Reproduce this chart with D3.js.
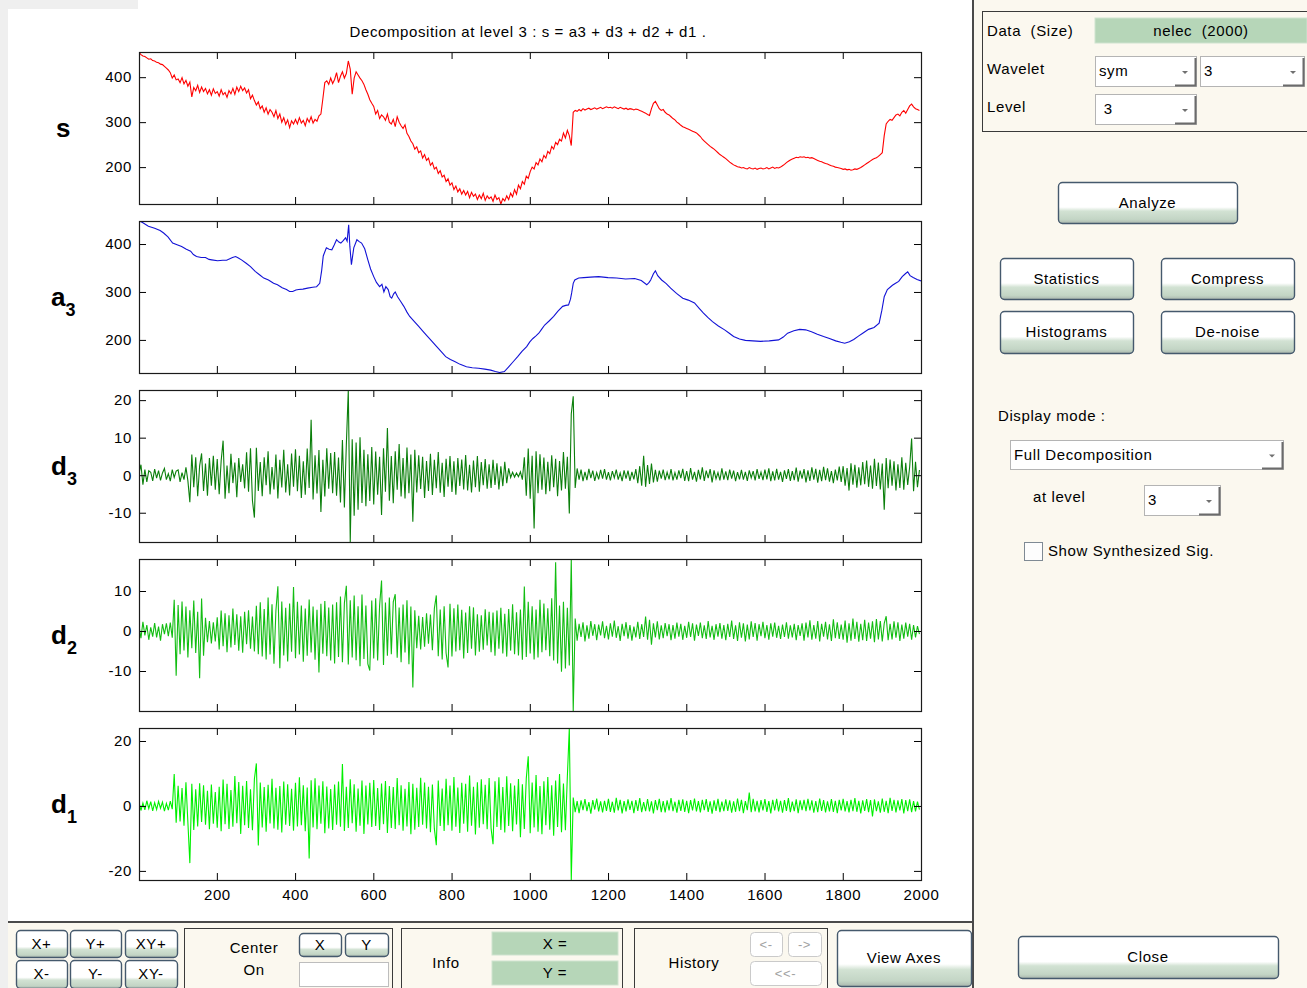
<!DOCTYPE html>
<html>
<head>
<meta charset="utf-8">
<script src="https://cdn.jsdelivr.net/npm/d3@7"></script>
<style>
  body { margin: 0; background: #fff; }
  svg { font-family: "Liberation Sans", Arial, sans-serif; font-size: 15px; letter-spacing: 0.6px; }
</style>
</head>
<body>
<div id="chart"></div>
<script>
// samples 1..2000, detail/signal series stored every 5th sample
const sampleStep = 5;
const xTicks = [200, 400, 600, 800, 1000, 1200, 1400, 1600, 1800, 2000];

const sDomain = [118, 456];
const a3Domain = [131, 448];
const det3Domain = [-17.8, 22.7];
const det2Domain = [-20, 18];
const det1Domain = [-22.8, 24];

const sTicks = [200, 300, 400];
const a3Ticks = [200, 300, 400];
const det3Ticks = [-10, 0, 10, 20];
const det2Ticks = [-10, 0, 10];
const det1Ticks = [-20, 0, 20];

const sValues = [
  455, 450, 447, 446, 443, 440, 441, 437, 436, 433, 432, 429, 428, 424, 420, 416, 410, 398, 405, 394,
  396, 388, 399, 385, 393, 380, 389, 356, 377, 370, 382, 366, 378, 368, 375, 363, 372, 360, 374, 364,
  368, 358, 372, 361, 366, 355, 370, 363, 375, 362, 378, 368, 380, 370, 376, 365, 372, 352, 360, 348,
  338, 345, 330, 336, 322, 332, 318, 328, 322, 312, 326, 308, 318, 300, 310, 295, 305, 288, 303, 296,
  306, 296, 310, 298, 304, 292, 308, 300, 312, 298, 306, 302, 314, 318, 352, 388, 392, 384, 398, 386,
  395, 410, 388, 402, 412, 398, 408, 436, 418, 362, 398, 412, 405, 398, 392, 384, 372, 362, 350, 342,
  335, 318, 326, 308, 316, 312, 304, 318, 300, 296, 306, 290, 312, 300, 292, 286, 294, 275, 268, 258,
  252, 240, 245, 232, 236, 220, 228, 215, 220, 204, 210, 196, 200, 186, 192, 178, 182, 168, 174, 160,
  165, 150, 158, 145, 152, 140, 148, 138, 146, 132, 144, 135, 140, 128, 138, 130, 142, 126, 136, 130,
  134, 124, 138, 128, 132, 118, 130, 125, 136, 128, 142, 134, 150, 140, 160, 152, 168, 162, 180, 175,
  190, 200, 196, 210, 205, 218, 212, 226, 220, 235, 230, 246, 240, 255, 250, 262, 258, 276, 265, 282,
  270, 248, 322, 326, 324, 328, 325, 330, 327, 329, 331, 328, 330, 332, 329, 331, 333, 330, 332, 334,
  332, 333, 331, 334, 332, 330, 333, 331, 329, 331, 328, 330, 329, 327, 329, 328, 326, 324, 322, 320,
  317, 315, 330, 342, 346, 338, 330, 326, 328, 322, 318, 316, 312, 308, 305, 300, 297, 293, 290, 288,
  286, 284, 282, 280, 278, 276, 272, 268, 262, 258, 254, 250, 246, 243, 240, 236, 232, 228, 225, 222,
  219, 215, 211, 208, 205, 203, 201, 200, 198, 199, 197, 196, 199, 197, 196, 198, 195, 197, 198, 196,
  197, 199, 196, 198, 200, 197, 199, 198, 200, 203, 206, 210, 213, 216, 218, 220, 222, 221, 223, 222,
  223, 221, 222, 220, 221, 219, 217, 215, 213, 212, 210, 208, 207, 205, 203, 202, 200, 199, 198, 197,
  195, 196, 194, 195, 193, 194, 196, 195, 197, 199, 202, 205, 208, 211, 214, 217, 219, 221, 224, 228,
  232, 270, 296, 302, 306, 304, 310, 316, 318, 314, 322, 326, 320, 328, 336, 340, 334, 330, 328, 326
];

const a3Index = [
  1, 10, 25, 41, 55, 64, 75, 87, 100, 110,
  122, 133, 140, 148, 160, 171, 180, 187, 202, 215,
  225, 240, 248, 255, 263, 275, 286, 298, 309, 320,
  332, 345, 355, 367, 378, 386, 394, 402, 409, 420,
  432, 445, 455, 463, 468, 472, 480, 487, 494, 500,
  506, 512, 517, 523, 529, 533, 537, 540, 544, 550,
  558, 564, 570, 578, 586, 593, 601, 608, 616, 622,
  627, 632, 638, 643, 647, 652, 656, 662, 670, 678,
  686, 693, 705, 716, 727, 739, 750, 762, 773, 785,
  797, 808, 822, 838, 853, 869, 885, 900, 912, 923,
  935, 946, 958, 969, 980, 992, 1000, 1008, 1015, 1023,
  1030, 1038, 1050, 1061, 1072, 1084, 1092, 1099, 1104, 1107,
  1111, 1115, 1125, 1138, 1155, 1176, 1200, 1222, 1245, 1268,
  1285, 1299, 1305, 1309, 1316, 1321, 1327, 1337, 1348, 1360,
  1375, 1391, 1405, 1421, 1433, 1444, 1455, 1467, 1482, 1498,
  1510, 1521, 1536, 1551, 1570, 1590, 1612, 1636, 1648, 1659,
  1675, 1690, 1705, 1720, 1735, 1751, 1766, 1782, 1795, 1805,
  1817, 1828, 1840, 1851, 1866, 1880, 1893, 1900, 1906, 1914,
  1927, 1935, 1943, 1952, 1960, 1966, 1972, 1980, 1990, 2000
];
const a3Values = [
  448, 445, 437, 433, 428, 423, 415, 402, 398, 395,
  389, 385, 378, 374, 372, 372, 368, 367, 365, 366,
  366, 372, 374, 371, 367, 360, 353, 343, 336, 329,
  325, 318, 315, 309, 305, 301, 301, 304, 305, 306,
  308, 310, 311, 318, 345, 375, 392, 389, 388, 398,
  409, 404, 402, 407, 413, 406, 440, 395, 357, 392,
  409, 405, 402, 390, 367, 348, 332, 320, 311, 316,
  300, 311, 305, 290, 287, 296, 300, 290, 280, 270,
  258, 249, 238, 228, 218, 207, 197, 186, 176, 165,
  159, 155, 149, 144, 142, 141, 139, 137, 134, 132,
  134, 144, 155, 165, 176, 186, 196, 203, 208, 214,
  222, 231, 240, 249, 260, 270, 272, 273, 285, 298,
  318, 325, 329, 330, 331, 332, 330, 329, 327, 328,
  324, 315, 320, 325, 338, 344, 334, 325, 318, 308,
  297, 287, 283, 277, 266, 256, 247, 238, 229, 221,
  214, 207, 202, 199, 198, 197, 198, 200, 206, 214,
  219, 222, 221, 217, 212, 207, 203, 198, 195, 193,
  196, 201, 208, 214, 222, 226, 235, 262, 290, 305,
  314, 318, 322, 332, 338, 342, 334, 330, 326, 323
];

const det3Values = [
  0.5, 2.8, -2.5, 1.5, -1.8, 1.2, 0.8, -1.5, 1.6, -0.8, 1.2, -1.4, 0.6, 1.8, -1.2, 0.4, -1.6, 1.5, -0.6, 1.1,
  1.4, -1.8, 0.7, -1.2, 2.1, -1.5, -7.2, 5.5, -3.2, 4.8, -5.6, 2.5, 5.8, -4.2, 3.1, -5.5, 4.6, -2.8, 5.2, -3.9,
  4.3, -5.1, 3.8, 9.2, -6.3, 2.6, -4.8, 5.7, -2.1, 3.4, -5.9, 4.6, -1.8, 2.9, -3.5, 6.1, -4.4, 7.2, -6.8, -11.3,
  7.3, -4.2, 3.5, -5.6, 4.8, -2.7, 6.4, -5.1, 2.2, -3.8, 5.5, -6.2, 4.1, -3.3, 6.8, -4.6, 2.9, -5.4, 5.8, -3.1,
  6.9, -4.3, 5.2, -6.1, 3.7, -5.2, 7.1, -3.4, 14.8, -6.5, 5.3, -4.9, 6.7, -9.8, 4.1, -5.7, 7.2, -3.6, 5.9, -4.8,
  6.2, -5.5, 4.7, -7.3, 9.4, -8.6, 8.1, 22.7, -17.8, 9.6, -10.8, 8.7, -9.2, 10.1, -7.4, 6.8, -8.3, 5.6, -6.9, 7.5,
  -7.8, 6.3, -5.2, 4.9, -10.6, 7.2, -4.4, 12.6, -6.8, 5.1, -7.5, 6.4, -3.9, 8.3, -5.7, 4.6, -6.2, 7.4, -4.8, 5.5,
  -12.4, 6.8, -4.6, 5.3, -3.7, 4.9, -6.1, 3.8, -4.2, 5.7, -5.3, 4.1, -3.5, 6.2, -4.7, 3.3, -5.8, 4.4, -3.1, 5.1,
  -4.5, 3.7, -5.2, 4.6, -2.9, 4.2, -3.8, 5.4, -4.1, 2.8, -4.6, 3.9, -3.2, 5.1, -4.4, 3.5, -2.7, 4.3, -3.6, 2.9,
  -3.4, 4.1, -2.6, 3.2, -3.8, 2.4, -2.9, 3.6, -2.1, 1.8, -0.6, 0.8, -0.5, 0.6, -0.4, 0.9, -1.2, 4.8, -5.5, 7.1,
  -6.3, 5.2, -14.2, 6.4, -4.8, 5.6, -3.9, 4.7, -5.1, 3.6, -4.3, 5.3, -3.2, 4.4, -5.6, 3.8, -4.1, 6.2, -3.6, 4.9,
  -10.2, 16.3, 21.0, -3.4, 1.8, -1.2, 1.5, -1.6, 0.9, -1.3, 1.7, -0.8, 1.2, -1.5, 0.7, -1.1, 1.4, -0.9, 1.6, -1.2,
  0.8, -1.4, 1.1, -0.7, 1.5, -1.2, 0.6, -1.6, 1.3, -0.9, 1.2, -1.5, 0.9, -1.1, 1.6, -2.1, 2.4, -2.8, 5.2, -3.1,
  2.7, -2.3, 3.1, -1.9, 1.4, -1.7, 1.2, -0.9, 1.5, -1.3, 0.8, -1.1, 1.6, -1.4, 0.7, -1.2, 1.3, -0.8, 1.7, -1.5,
  1.1, -1.6, 1.9, -1.2, 0.9, -1.7, 1.4, -1.1, 2.1, -1.5, 1.2, -0.8, 1.6, -1.9, 1.3, -1.0, 0.7, -1.4, 1.8, -1.2,
  1.0, -1.3, 1.5, -0.9, 1.2, -1.6, 0.8, -1.1, 1.4, -1.2, 0.9, -1.5, 1.3, -0.7, 1.1, -1.4, 1.6, -1.0, 0.8, -1.3,
  1.5, -1.1, 1.8, -1.6, 1.0, -1.4, 1.7, -1.2, 0.9, -1.8, 1.3, -1.0, 1.6, -1.5, 1.1, -1.3, 2.0, -1.7, 1.2, -0.9,
  1.6, -1.9, 1.3, -1.5, 2.1, -1.2, 1.7, -2.0, 1.4, -1.6, 2.2, -1.3, 1.8, -1.7, 1.1, -2.1, 1.5, -1.4, 2.3, -1.8,
  2.4, -2.8, 1.9, -4.1, 3.2, -2.5, 2.8, -3.3, 2.1, -2.7, 3.5, -2.4, 3.9, -3.1, 2.6, -3.6, 4.4, -2.9, 3.4, -3.8,
  3.1, -9.2, 4.6, -3.5, 4.2, -2.8, 3.7, -4.1, 2.9, -3.4, 4.8, -3.9, 3.3, -2.6, 2.2, 9.8, -4.3, 3.6, -3.2, 1.4
];

const det2Values = [
  1.2, -1.8, 2.3, -1.1, 1.5, -2.2, 0.9, -1.4, 2.0, -1.6, 1.1, -2.4, 1.7, -0.8, 1.9, -1.3, 2.1, -1.7, 7.8, -11.2,
  6.5, -5.8, 7.4, -4.9, 6.1, -6.6, 5.2, -4.3, 7.6, -5.5, 4.8, -11.8, 8.1, -6.2, 3.3, -2.8, 2.5, -3.1, 2.2, -2.6,
  3.4, -4.6, 5.1, -3.8, 4.4, -5.3, 3.9, -4.1, 5.6, -3.5, 4.2, -4.9, 3.7, -5.4, 4.8, -3.3, 5.2, -4.4, 3.6, -5.1,
  6.3, -5.8, 7.2, -6.4, 5.5, -7.1, 8.4, -5.9, 6.7, -8.2, 5.1, 11.2, -9.3, 7.4, -6.1, 5.8, -7.6, 6.9, -5.2, 11.0,
  -6.8, 7.3, -5.9, 6.4, -7.7, 5.6, -6.2, 7.9, -5.4, 6.1, -7.2, 5.3, -10.4, 6.8, -5.7, 7.5, -6.3, 5.9, -7.4, 6.6,
  -8.1, 7.2, -6.5, 8.6, -7.8, 6.9, 11.3, -8.4, 7.7, -6.6, 8.9, -7.3, 6.2, -8.8, 9.1, -7.0, 6.4, -8.2, -9.9, 7.6,
  -6.9, 8.2, -7.4, 6.3, 12.6, -8.5, 7.1, -6.2, 8.4, -5.8, 7.3, 9.2, -6.7, 5.9, -7.8, 6.6, -5.4, 7.7, -8.3, 6.1,
  -14.1, 5.2, -4.3, 3.8, -4.6, 3.5, -3.9, 4.4, -3.2, 4.1, -4.8, 5.6, 8.9, -6.3, 5.4, -7.1, 6.2, -5.5, -9.1, 6.8,
  -6.4, 5.7, -5.1, 6.6, -4.8, 5.3, -6.9, 4.6, -5.5, 6.2, -4.4, 5.9, -6.1, 4.2, -5.2, 3.9, -4.7, 5.4, -3.6, 4.8,
  -5.3, 4.6, -6.2, 5.1, -4.4, 5.8, -5.6, 4.3, -6.4, 5.5, -4.9, 6.7, -5.8, 4.7, -6.1, 5.4, -7.2, 11.1, -6.5, 7.3,
  -5.6, 6.2, -7.1, 5.4, -6.6, 7.8, -5.3, 6.9, -4.8, 5.7, -6.3, 8.2, -7.4, 17.2, -8.1, 6.4, -10.2, 7.3, -9.4, 5.8,
  -8.6, 18.0, -20.0, 3.1, -2.4, 1.8, -1.5, 2.2, -2.6, 1.4, -1.9, 2.5, -1.2, 1.7, -2.3, 1.6, -1.1, 2.4, -1.8, 1.3,
  -2.1, 1.9, -1.4, 2.6, -1.7, 1.2, -2.5, 1.8, -1.3, 2.2, -1.9, 1.5, -2.4, 1.1, -1.6, 2.3, -2.0, 1.7, -1.5, 3.6,
  -2.2, 2.8, -3.4, 1.9, -1.6, 2.4, -2.1, 1.4, -1.8, 2.0, -1.3, 1.7, -2.3, 1.5, -1.9, 2.1, -1.4, 1.8, -2.2, 1.3,
  -1.7, 2.3, -1.5, 1.9, -2.4, 1.6, -1.2, 2.1, -1.8, 1.4, -2.0, 2.5, -1.6, 1.3, -2.2, 1.7, -1.4, 2.0, -1.9, 1.5,
  -2.3, 1.8, -1.5, 2.6, -2.0, 1.4, -2.5, 2.2, -1.7, 1.9, -2.6, 1.6, -2.1, 2.4, -1.5, 2.0, -2.4, 1.7, -1.3, 2.3,
  -1.8, 1.5, -2.2, 1.9, -1.4, 2.1, -1.7, 1.3, -2.0, 1.6, -1.5, 2.2, -1.9, 1.4, -1.6, 1.8, -2.3, 1.5, -1.2, 1.9,
  -2.4, 2.1, -1.6, 2.7, -2.2, 1.5, -1.9, 2.5, -2.6, 1.8, -1.4, 2.3, -2.1, 1.7, -2.5, 2.9, -1.8, 2.2, -2.0, 1.6,
  -2.2, 2.6, -2.9, 1.9, -2.4, 3.1, -2.0, 2.3, -2.7, 1.8, -2.3, 2.8, -2.5, 2.1, -1.9, 2.4, -2.8, 3.0, -2.1, 2.5,
  -2.6, 1.9, 3.7, -2.3, 1.8, -2.1, 2.4, -1.7, 2.2, -2.5, 1.6, -1.9, 2.1, -1.4, 1.8, -2.2, 1.5, -1.6, 1.2, -0.8
];

const det1Values = [
  1.1, -1.4, 0.9, -1.2, 1.6, -0.8, 1.3, -1.5, 1.0, -1.1, 1.4, -0.7, 1.2, -1.6, 0.8, -1.3, 1.5, -1.0, 9.8, -5.2,
  6.2, -4.8, 5.5, -6.1, 7.3, -5.2, -17.6, 6.8, -7.4, 5.1, -6.3, 7.0, -4.9, 6.4, -5.8, 4.7, -7.2, 6.6, -5.5, 4.3,
  -6.7, 5.9, -7.8, 8.1, -5.6, 6.8, -7.1, 4.9, -6.4, 9.2, -5.3, 7.4, -8.6, 6.2, -5.9, 7.7, -6.8, 5.1, -7.5, 8.3,
  13.1, -12.2, 7.2, -6.6, 5.8, -7.9, 6.5, -5.4, 8.4, -6.9, 5.6, -7.3, 6.1, -8.2, 7.5, -5.8, 6.7, -6.2, 5.3, -7.6,
  7.1, -6.3, 8.8, -5.9, 6.4, -7.8, 5.7, -16.2, 7.9, -6.6, 8.5, -7.2, 6.3, -5.5, 7.6, -8.4, 6.0, -6.9, 5.2, -7.4,
  6.6, -5.8, 7.5, -6.4, 12.9, -7.7, 5.9, -6.8, 8.2, -5.3, 6.7, -7.9, 5.4, -6.1, 7.8, -8.6, 6.3, -5.7, 7.1, -6.5,
  8.0, -6.2, 5.5, -7.4, 6.9, -5.6, 7.7, -8.3, 6.1, -6.8, 5.8, -7.1, 8.6, -5.9, 6.4, -7.6, 5.3, -6.3, 7.4, -8.7,
  6.8, -7.3, 5.6, -6.5, 8.7, -5.8, 7.2, -6.9, 5.9, -8.1, 6.6, -7.0, -12.1, 7.8, -6.2, 5.4, -7.7, 8.4, -5.9, 6.3,
  -7.6, 8.9, -6.4, 5.7, -8.3, 7.1, -5.5, 6.8, -7.9, 9.4, -6.1, 5.9, -8.8, 7.3, -6.7, 8.2, -5.6, 6.5, -7.2, 8.6,
  -6.9, -11.8, 7.6, -6.5, 8.8, -7.4, 5.8, -8.2, 9.1, -6.2, 7.0, -7.8, 6.3, -5.7, 8.3, -9.6, 6.7, -7.1, 8.5, 15.3,
  -8.4, 7.2, -6.6, 9.5, -7.9, 6.1, -8.7, 7.6, -5.9, 8.9, -7.3, 6.4, -9.2, 7.8, -6.5, 9.8, -8.1, 6.9, -7.5, 9.1,
  24.0, -22.8, 2.6, -1.9, 1.5, -2.2, 1.7, -1.3, 2.1, -1.6, 1.2, -2.4, 1.8, -1.1, 2.3, -1.7, 1.4, -2.0, 1.6, -1.5,
  2.2, -1.8, 1.3, -2.1, 2.5, -1.4, 1.9, -2.3, 1.5, -1.7, 2.0, -1.2, 1.6, -2.2, 1.8, -1.5, 2.4, -1.9, 1.2, -1.6,
  2.1, -1.7, 1.4, -2.3, 1.8, -1.3, 2.2, -1.9, 1.5, -2.0, 1.7, -1.4, 2.4, -1.6, 1.3, -2.1, 1.9, -1.5, 2.0, -1.8,
  1.6, -2.2, 1.8, -1.4, 2.3, -1.7, 1.5, -2.0, 1.9, -1.3, 2.1, -1.8, 1.4, -2.4, 1.7, -1.5, 2.2, -1.9, 1.3, -1.6,
  2.0, -1.5, 1.7, -2.1, 1.4, -1.8, 2.3, -1.6, 1.9, -2.2, 1.5, -1.3, 4.1, -1.9, 2.2, -1.7, 1.6, -2.0, 1.8, -1.4,
  2.1, -1.8, 1.5, -2.3, 1.9, -1.4, 2.2, -1.7, 1.6, -2.1, 1.8, -1.5, 2.4, -1.9, 1.3, -1.6, 2.0, -2.2, 1.7, -1.3,
  1.9, -1.6, 2.2, -1.4, 1.7, -2.1, 1.5, -1.9, 2.3, -1.5, 1.8, -2.0, 1.4, -1.7, 2.1, -1.8, 1.6, -2.2, 1.9, -1.4,
  2.2, -1.7, 1.5, -2.0, 1.9, -1.6, 2.4, -1.8, 1.6, -2.3, 1.7, -1.5, 2.1, -1.9, 1.8, -3.2, 2.0, -1.6, 1.4, -2.1,
  2.3, -1.8, 1.6, -2.2, 2.5, -1.5, 1.9, -2.0, 1.7, -1.4, 2.1, -2.3, 1.8, -1.6, 2.0, -1.9, 1.5, -1.7, 1.3, -1.1
];

const W = 1307, H = 988;
const plotLeft = 139, plotRight = 921, plotH = 152;
const cream = '#fbf8ef';

const svg = d3.select('#chart').append('svg').attr('width', W).attr('height', H);

const defs = svg.append('defs');
const grad = defs.append('linearGradient').attr('id', 'btnFill')
  .attr('x1', 0).attr('y1', 0).attr('x2', 0).attr('y2', 1);
[[0, '#ffffff'], [0.6, '#ffffff'], [0.7, '#d2e2d3'], [0.9, '#c3d5c5'], [1, '#a9b6ad']]
  .forEach(([o, c]) => grad.append('stop').attr('offset', o).attr('stop-color', c));

// backgrounds
svg.append('rect').attr('width', W).attr('height', H).attr('fill', '#ffffff');
svg.append('rect').attr('x', 974).attr('y', 0).attr('width', W - 974).attr('height', H).attr('fill', cream);
svg.append('rect').attr('x', 0).attr('y', 923).attr('width', 974).attr('height', H - 923).attr('fill', cream);
svg.append('rect').attr('x', 0).attr('y', 0).attr('width', 8).attr('height', H).attr('fill', '#efefef');
svg.append('rect').attr('x', 0).attr('y', 0).attr('width', 138).attr('height', 9).attr('fill', '#efefef');
svg.append('line').attr('x1', 8).attr('x2', 973).attr('y1', 922).attr('y2', 922)
  .attr('stroke', '#4a4a4a').attr('stroke-width', 2);
svg.append('line').attr('x1', 973).attr('x2', 973).attr('y1', 0).attr('y2', H)
  .attr('stroke', '#4a4a4a').attr('stroke-width', 2);

// ---------- plots ----------
const x = d3.scaleLinear().domain([1, 2000]).range([plotLeft, plotRight]);
const sampled = vals => vals.map((v, i) => [1 + i * sampleStep, v]);
const plainNum = d => String(d);   // MATLAB style "-10", not a unicode minus

const panels = [
  {id: 's', name: 's', sub: '', domain: sDomain, ticks: sTicks, color: '#ff0000', pts: sampled(sValues)},
  {id: 'a3', name: 'a', sub: '3', domain: a3Domain, ticks: a3Ticks, color: '#1212d6', pts: a3Index.map((n, i) => [n, a3Values[i]])},
  {id: 'd3', name: 'd', sub: '3', domain: det3Domain, ticks: det3Ticks, color: '#0b7f0b', pts: sampled(det3Values)},
  {id: 'd2', name: 'd', sub: '2', domain: det2Domain, ticks: det2Ticks, color: '#12bd12', pts: sampled(det2Values)},
  {id: 'd1', name: 'd', sub: '1', domain: det1Domain, ticks: det1Ticks, color: '#00f000', pts: sampled(det1Values)}
];

const noDomain = g => g.select('.domain').remove();

panels.forEach((p, k) => {
  const top = 52 + k * 169;
  const bottom = top + plotH;
  const y = d3.scaleLinear().domain(p.domain).range([bottom, top]);
  const g = svg.append('g');

  defs.append('clipPath').attr('id', 'clip-' + p.id)
    .append('rect').attr('x', plotLeft).attr('y', top).attr('width', plotRight - plotLeft).attr('height', plotH);

  const line = d3.line().x(d => x(d[0])).y(d => y(d[1]));
  g.append('path').datum(p.pts)
    .attr('clip-path', `url(#clip-${p.id})`)
    .attr('fill', 'none').attr('stroke', p.color).attr('stroke-width', 1.1)
    .attr('d', line);

  g.append('g').attr('transform', `translate(${plotLeft},0)`)
    .call(d3.axisLeft(y).tickValues(p.ticks).tickSize(-7).tickPadding(7).tickFormat(plainNum))
    .call(noDomain).attr('font-size', 15).attr('font-family', null);
  g.append('g').attr('transform', `translate(${plotRight},0)`)
    .call(d3.axisRight(y).tickValues(p.ticks).tickSize(-7).tickFormat(''))
    .call(noDomain);
  g.append('g').attr('transform', `translate(0,${top})`)
    .call(d3.axisTop(x).tickValues(xTicks).tickSize(-7).tickFormat(''))
    .call(noDomain);
  const last = k === panels.length - 1;
  g.append('g').attr('transform', `translate(0,${bottom})`)
    .call(d3.axisBottom(x).tickValues(xTicks).tickSize(-7).tickPadding(9).tickFormat(last ? plainNum : ''))
    .call(noDomain).attr('font-size', 15).attr('font-family', null);

  g.append('rect').attr('x', plotLeft + 0.5).attr('y', top + 0.5)
    .attr('width', plotRight - plotLeft).attr('height', plotH)
    .attr('fill', 'none').attr('stroke', '#1a1a1a').attr('stroke-width', 1.2);

  const lbl = g.append('text')
    .attr('x', p.sub ? 51 : 56).attr('y', top + plotH / 2 + 9)
    .attr('font-size', 26).attr('font-weight', 'bold').style('letter-spacing', '0px');
  lbl.append('tspan').text(p.name);
  if (p.sub) lbl.append('tspan').attr('dy', 10).attr('font-size', 18).text(p.sub);
});

svg.append('text').attr('x', 528).attr('y', 37).attr('text-anchor', 'middle')
  .text('Decomposition at level 3 : s = a3 + d3 + d2 + d1 .');

// ---------- GUI controls ----------
function button(x0, y0, w, h, label, disabled) {
  svg.append('rect').attr('x', x0 + 0.5).attr('y', y0 + 0.5).attr('width', w).attr('height', h).attr('rx', 4)
    .attr('fill', disabled ? '#ffffff' : 'url(#btnFill)')
    .attr('stroke', disabled ? '#cacaca' : '#45596d').attr('stroke-width', disabled ? 1 : 1.4);
  svg.append('text').attr('x', x0 + w / 2).attr('y', y0 + h / 2 + 5).attr('text-anchor', 'middle')
    .attr('fill', disabled ? '#a2a2a2' : '#000').attr('font-size', disabled ? 13 : 15).text(label);
}

function popup(x0, y0, w, h, label) {
  svg.append('rect').attr('x', x0 + 0.5).attr('y', y0 + 0.5).attr('width', w).attr('height', h)
    .attr('fill', '#ffffff').attr('stroke', '#b4b4b4');
  const ax = x0 + w - 21;
  svg.append('path').attr('d', `M${ax},${y0 + h - 0.5} L${x0 + w - 0.5},${y0 + h - 0.5} L${x0 + w - 0.5},${y0 + 2}`)
    .attr('fill', 'none').attr('stroke', '#6b6b6b').attr('stroke-width', 2);
  const cx = ax + 10, cy = y0 + h / 2 + 1;
  svg.append('path').attr('d', `M${cx - 3},${cy - 1} L${cx + 3},${cy - 1} L${cx},${cy + 2} Z`).attr('fill', '#707070');
  svg.append('text').attr('x', x0 + 4).attr('y', y0 + h / 2 + 5).style('white-space', 'pre').text(label);
}

function field(x0, y0, w, h, label) {
  svg.append('rect').attr('x', x0).attr('y', y0).attr('width', w).attr('height', h)
    .attr('fill', '#b6d6b8').attr('stroke', '#cfe3d0');
  svg.append('text').attr('x', x0 + w / 2).attr('y', y0 + h / 2 + 5).attr('text-anchor', 'middle')
    .style('white-space', 'pre').text(label);
}

function frame(x0, y0, w, h) {
  svg.append('rect').attr('x', x0 + 0.5).attr('y', y0 + 0.5).attr('width', w).attr('height', h)
    .attr('fill', 'none').attr('stroke', '#3a3a3a');
}

function label(x0, y0, txt, anchor) {
  svg.append('text').attr('x', x0).attr('y', y0).attr('text-anchor', anchor || 'start')
    .style('white-space', 'pre').text(txt);
}

// right panel
frame(982, 11, 340, 120);
label(987, 36, 'Data  (Size)');
field(1095, 18, 212, 25, 'nelec  (2000)');
label(987, 74, 'Wavelet');
popup(1095, 56, 101, 30, 'sym');
popup(1200, 56, 104, 30, '3');
label(987, 112, 'Level');
popup(1095, 94, 101, 30, ' 3');

button(1058, 182, 179, 41, 'Analyze');
button(1000, 258, 133, 41, 'Statistics');
button(1161, 258, 133, 41, 'Compress');
button(1000, 311, 133, 42, 'Histograms');
button(1161, 311, 133, 42, 'De-noise');

label(998, 421, 'Display mode :');
popup(1010, 440, 273, 29, 'Full Decomposition');
label(1033, 502, 'at level');
popup(1144, 485, 76, 30, '3');
svg.append('rect').attr('x', 1024.5).attr('y', 542.5).attr('width', 18).attr('height', 18)
  .attr('fill', '#fdfdfd').attr('stroke', '#7f8a94');
label(1048, 556, 'Show Synthesized Sig.');

button(1018, 936, 260, 42, 'Close');

// bottom strip
button(16, 930, 51, 27, 'X+');
button(70, 930, 51, 27, 'Y+');
button(125, 930, 52, 27, 'XY+');
button(16, 960, 51, 28, 'X-');
button(70, 960, 51, 28, 'Y-');
button(125, 960, 52, 28, 'XY-');

frame(184, 928, 208, 64);
label(254, 953, 'Center', 'middle');
label(254, 975, 'On', 'middle');
button(299, 933, 42, 23, 'X');
button(345, 933, 43, 23, 'Y');
svg.append('rect').attr('x', 299.5).attr('y', 962.5).attr('width', 89).attr('height', 24)
  .attr('fill', '#ffffff').attr('stroke', '#bdbdbd');

frame(401, 928, 221, 64);
label(446, 968, 'Info', 'middle');
field(492, 932, 126, 23, 'X =');
field(492, 961, 126, 24, 'Y =');

frame(634, 928, 193, 64);
label(694, 968, 'History', 'middle');
button(750, 932, 32, 24, '<-', true);
button(788, 932, 33, 24, '->', true);
button(750, 961, 71, 24, '<<-', true);

button(837, 930, 134, 56, 'View Axes');
</script>
</body>
</html>
